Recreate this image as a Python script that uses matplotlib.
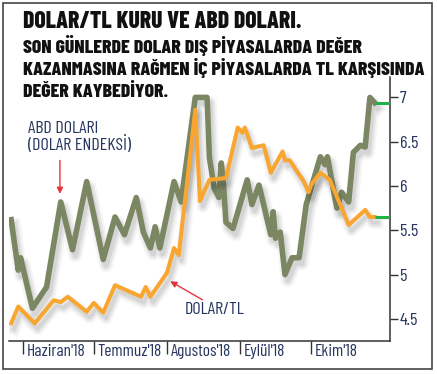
import matplotlib
matplotlib.use("Agg")
import matplotlib.pyplot as plt
import matplotlib.patheffects as pe
import matplotlib.transforms as mtransforms
import pandas as pd
from matplotlib.patches import Rectangle

# ABD dolari (dolar endeksi) - grafige olceklenmis degerler
usd_dates = ["2018-05-27", "2018-05-30", "2018-05-31", "2018-06-05", "2018-06-11",
             "2018-06-17", "2018-06-22", "2018-06-28", "2018-07-05", "2018-07-10",
             "2018-07-14", "2018-07-19", "2018-07-22", "2018-07-25", "2018-07-27",
             "2018-07-29", "2018-08-04", "2018-08-07", "2018-08-13", "2018-08-18",
             "2018-08-19", "2018-08-21", "2018-08-23", "2018-08-24", "2018-08-25",
             "2018-08-26", "2018-08-29", "2018-09-04", "2018-09-06", "2018-09-09",
             "2018-09-14", "2018-09-15", "2018-09-16", "2018-09-18", "2018-09-20",
             "2018-09-23", "2018-09-26", "2018-09-29", "2018-10-05", "2018-10-07",
             "2018-10-08", "2018-10-12", "2018-10-14", "2018-10-17", "2018-10-19",
             "2018-10-22", "2018-10-24", "2018-10-26", "2018-10-28"]
usd_vals = [5.62, 5.05, 5.19, 4.62, 4.86,
            5.82, 5.28, 6.05, 5.17, 5.65,
            5.45, 5.87, 5.48, 5.30, 5.54,
            5.30, 6.05, 5.82, 7.00, 7.00,
            6.32, 5.98, 5.87, 6.26, 6.01,
            5.59, 5.52, 6.07, 5.79, 6.01,
            5.45, 5.71, 5.41, 5.48, 5.00,
            5.19, 5.19, 5.79, 6.33, 6.24,
            6.33, 5.75, 5.93, 5.82, 6.38,
            6.46, 6.44, 7.00, 6.94]

# Dolar/TL kuru
try_dates = ["2018-05-27", "2018-05-30", "2018-06-06", "2018-06-14", "2018-06-17",
             "2018-06-20", "2018-06-28", "2018-07-01", "2018-07-05", "2018-07-10",
             "2018-07-21", "2018-07-23", "2018-07-25", "2018-08-01", "2018-08-04",
             "2018-08-06", "2018-08-13", "2018-08-15", "2018-08-19", "2018-08-26",
             "2018-08-31", "2018-09-02", "2018-09-03", "2018-09-06", "2018-09-11",
             "2018-09-14", "2018-09-19", "2018-09-20", "2018-09-22", "2018-09-28",
             "2018-09-30", "2018-10-01", "2018-10-05", "2018-10-09", "2018-10-17",
             "2018-10-24", "2018-10-26", "2018-10-28"]
try_vals = [4.45, 4.64, 4.45, 4.71, 4.69,
            4.75, 4.58, 4.68, 4.57, 4.88,
            4.75, 4.86, 4.75, 5.02, 5.30,
            5.22, 6.86, 5.83, 6.07, 6.09,
            6.66, 6.60, 6.66, 6.43, 6.46,
            6.15, 6.39, 6.29, 6.29, 6.05,
            5.93, 6.01, 6.15, 6.07, 5.56,
            5.73, 5.65, 5.65]

month_ticks = ["2018-06-01", "2018-07-01", "2018-08-01", "2018-09-01", "2018-10-01"]
month_labels = ["Haziran'18", "Temmuz'18", "Agustos'18", "Eylül'18", "Ekim'18"]
y_ticks = [4.5, 5, 5.5, 6, 6.5, 7]

title1 = "DOLAR/TL KURU VE ABD DOLARI."
title2 = ["SON GÜNLERDE DOLAR DIŞ PİYASALARDA DEĞER",
          "KAZANMASINA RAĞMEN İÇ PİYASALARDA TL KARŞISINDA",
          "DEĞER KAYBEDİYOR."]

plt.rcParams['font.family'] = ['Barlow Condensed', 'DejaVu Sans']

GREEN = "#7b8762"
ORANGE = "#f9a630"
NAVY = "#26355f"
RED = "#e8323c"

usd_x = pd.to_datetime(usd_dates)
try_x = pd.to_datetime(try_dates)
x_left = pd.Timestamp("2018-05-26 02:00")
x_right = pd.Timestamp("2018-11-03 12:00")

fig = plt.figure(figsize=(4.37, 3.74), dpi=100)
ax = fig.add_axes([0.0206, 0.0882, 0.8718, 0.7058])


def shadow(w):
    return [pe.SimpleLineShadow(offset=(2, -4), shadow_color="#000000", alpha=0.04, linewidth=w + 6),
            pe.SimpleLineShadow(offset=(2, -4), shadow_color="#000000", alpha=0.06, linewidth=w + 3),
            pe.SimpleLineShadow(offset=(2, -4), shadow_color="#000000", alpha=0.07, linewidth=w),
            pe.Normal()]


ax.plot(usd_x, usd_vals, color=GREEN, lw=4.0, path_effects=shadow(4.0), zorder=3)
ax.plot(try_x, try_vals, color=ORANGE, lw=2.9, path_effects=shadow(2.9), zorder=4)

# son deger isaretleri
ax.plot([usd_x[-1], x_right], [usd_vals[-1], usd_vals[-1]], color="#22b04b", lw=2.2, zorder=5,
        solid_capstyle="butt")
ax.plot([try_x[-1], x_right], [try_vals[-1], try_vals[-1]], color="#22b04b", lw=2.2, zorder=5,
        solid_capstyle="butt")

ax.set_xlim(x_left, x_right)
ax.set_ylim(4.25, 7.23)

for s in ["left", "top"]:
    ax.spines[s].set_visible(False)
for s in ["right", "bottom"]:
    ax.spines[s].set_color("#333333")
    ax.spines[s].set_linewidth(1.1)

ax.yaxis.tick_right()
ax.set_yticks(y_ticks)
ax.set_yticklabels([f"{v:g}" for v in y_ticks])
ax.tick_params(axis="y", direction="out", length=6, width=1.0, color="#333333",
               labelcolor=NAVY, labelsize=13, pad=1)

ax.set_xticks(pd.to_datetime(month_ticks))
ax.set_xticklabels(month_labels, ha="left")
ax.tick_params(axis="x", direction="out", length=9, width=1.0, color="#333333",
               labelcolor=NAVY, labelsize=12.5, pad=-7)
offset = mtransforms.ScaledTranslation(4 / 100, 0, fig.dpi_scale_trans)
for lab in ax.get_xticklabels():
    lab.set_transform(lab.get_transform() + offset)

# aciklamalar
fig.text(0.064, 0.6436, "ABD DOLARI", color=NAVY, fontsize=13, va="baseline", ha="left")
fig.text(0.064, 0.599, "(DOLAR ENDEKSİ)", color=NAVY, fontsize=13, va="baseline", ha="left")
ax.annotate("", xy=(pd.Timestamp("2018-06-16 16:00"), 5.88),
            xytext=(pd.Timestamp("2018-06-16 16:00"), 6.32),
            arrowprops=dict(arrowstyle="-|>", color=RED, lw=1, mutation_scale=9))
fig.text(0.4233, 0.160, "DOLAR/TL", color=NAVY, fontsize=13, va="baseline", ha="left")
ax.annotate("", xy=(pd.Timestamp("2018-08-01 10:00"), 4.94),
            xytext=(pd.Timestamp("2018-08-17"), 4.70),
            arrowprops=dict(arrowstyle="-|>", color=RED, lw=1, mutation_scale=9))

# baslik
fig.text(0.053, 0.925, title1, fontsize=17, fontweight=800, color="#111111",
         va="baseline", ha="left")
for i, line in enumerate(title2):
    fig.text(0.053, 0.8575 - i * 0.058, line, fontsize=14.2, fontweight=800,
             color="#111111", va="baseline", ha="left")

fig.patches.append(Rectangle((3 / 437, 5 / 374), 429 / 437, 366 / 374, transform=fig.transFigure,
                             fill=False, edgecolor="#444444", lw=1.2))

fig.savefig("out.png", dpi=100)
